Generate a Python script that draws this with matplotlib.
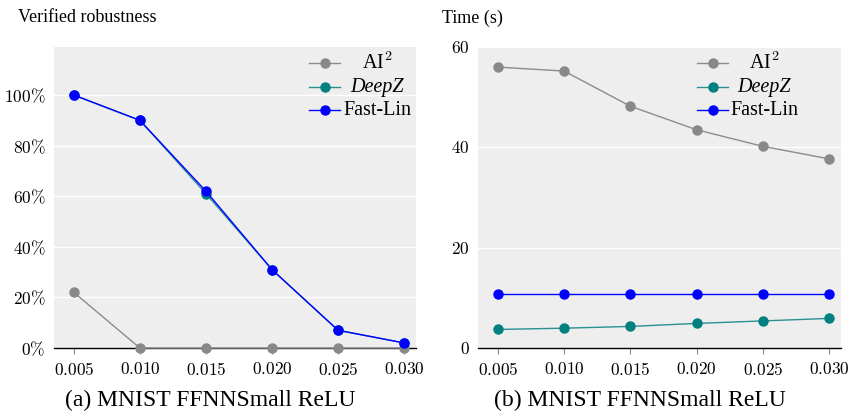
import matplotlib
matplotlib.use("Agg")
import matplotlib.pyplot as plt
from matplotlib.lines import Line2D

eps = [0.005, 0.010, 0.015, 0.020, 0.025, 0.030]
eps_labels = ["0.005", "0.010", "0.015", "0.020", "0.025", "0.030"]

rob_ai2 = [22, 0, 0, 0, 0, 0]
rob_deepz = [100, 90, 61, 31, 7, 2]
rob_fastlin = [100, 90, 62, 31, 7, 2]

time_ai2 = [56.0, 55.2, 48.2, 43.5, 40.2, 37.7]
time_deepz = [3.7, 3.95, 4.3, 4.9, 5.4, 5.9]
time_fastlin = [10.7, 10.7, 10.7, 10.7, 10.7, 10.7]

rob_ticks = [0, 20, 40, 60, 80, 100]
time_ticks = [0, 20, 40, 60]

series_names = ["AI$^2$", "DeepZ", "Fast-Lin"]

plt.rcParams['font.family'] = ['Liberation Serif', 'DejaVu Serif']
plt.rcParams['mathtext.fontset'] = 'cm'

W, H = 849, 415
fig = plt.figure(figsize=(W / 100, H / 100), dpi=100)
ax1 = fig.add_axes([54 / W, 1 - 348 / H, (416 - 54) / W, (348 - 47) / H])
ax2 = fig.add_axes([478 / W, 1 - 348 / H, (841 - 478) / W, (348 - 47) / H])

colors = ['#888888', '#008080', '#0000ff']
line_colors = ['#8c8c8c', '#2a9090', '#0000ff']


def style(ax):
    ax.set_facecolor('#eeeeee')
    for s in ['left', 'right', 'top']:
        ax.spines[s].set_visible(False)
    ax.spines['bottom'].set_color('black')
    ax.spines['bottom'].set_linewidth(1.0)
    ax.grid(axis='y', color='white', linewidth=1.0)
    ax.set_axisbelow(True)
    ax.tick_params(axis='y', length=0, pad=6, labelsize=12.5)
    ax.tick_params(axis='x', length=4, color='#888888', width=0.8, pad=6, labelsize=12.5)
    ax.set_xlim(0.0035, 0.0309)
    ax.set_xticks(eps)
    ax.set_xticklabels(['$' + l + '$' for l in eps_labels])


def plot_series(ax, data, leg_x0, leg_xc, row_px, ax_left_px, ax_w_px):
    for i, (vals, name) in enumerate(zip(data, series_names)):
        ax.plot(eps, vals, '-', color=line_colors[i], lw=1.0, clip_on=False, zorder=3 + i)
        ax.plot(eps, vals, 'o', color=colors[i], ms=6.5, clip_on=False, zorder=3 + i)
    # manual legend (centered labels, as in the reference)
    hx0 = (leg_x0 - ax_left_px) / ax_w_px
    hx1 = (leg_x0 + 31 - ax_left_px) / ax_w_px
    hxm = (hx0 + hx1) / 2
    tx = (leg_xc - ax_left_px) / ax_w_px
    for i, name in enumerate(series_names):
        yy = (348 - row_px[i]) / 301
        ax.add_line(Line2D([hx0, hx1], [yy, yy], color=line_colors[i], lw=1.0,
                           transform=ax.transAxes, clip_on=False, zorder=10))
        ax.add_line(Line2D([hxm], [yy], marker='o', color=colors[i], ms=6.5,
                           transform=ax.transAxes, clip_on=False, zorder=11))
        ax.text(tx, yy, name, transform=ax.transAxes, ha='center', va='center',
                fontsize=14.5, style='italic' if name == 'DeepZ' else 'normal', zorder=12)


rows = [63, 87, 110]

style(ax1)
plot_series(ax1, [rob_ai2, rob_deepz, rob_fastlin], 309, 377, rows, 54, 362)
ax1.set_ylim(0, 119)
ax1.set_yticks(rob_ticks)
ax1.set_yticklabels(['$' + str(t) + '\\%$' for t in rob_ticks])

style(ax2)
plot_series(ax2, [time_ai2, time_deepz, time_fastlin], 697, 764, rows, 478, 363)
ax2.set_ylim(0, 60)
ax2.set_yticks(time_ticks)
ax2.set_yticklabels(['$' + str(t) + '$' for t in time_ticks])

fig.text(18 / W, 1 - 18 / H, 'Verified robustness', fontsize=13, va='center', ha='left')
fig.text(442 / W, 1 - 18 / H, 'Time (s)', fontsize=13, va='center', ha='left')
fig.text(210 / W, 1 - 400 / H, '(a) MNIST FFNNSmall ReLU', fontsize=17, va='center', ha='center')
fig.text(640 / W, 1 - 400 / H, '(b) MNIST FFNNSmall ReLU', fontsize=17, va='center', ha='center')

fig.savefig('out.png', dpi=100)
